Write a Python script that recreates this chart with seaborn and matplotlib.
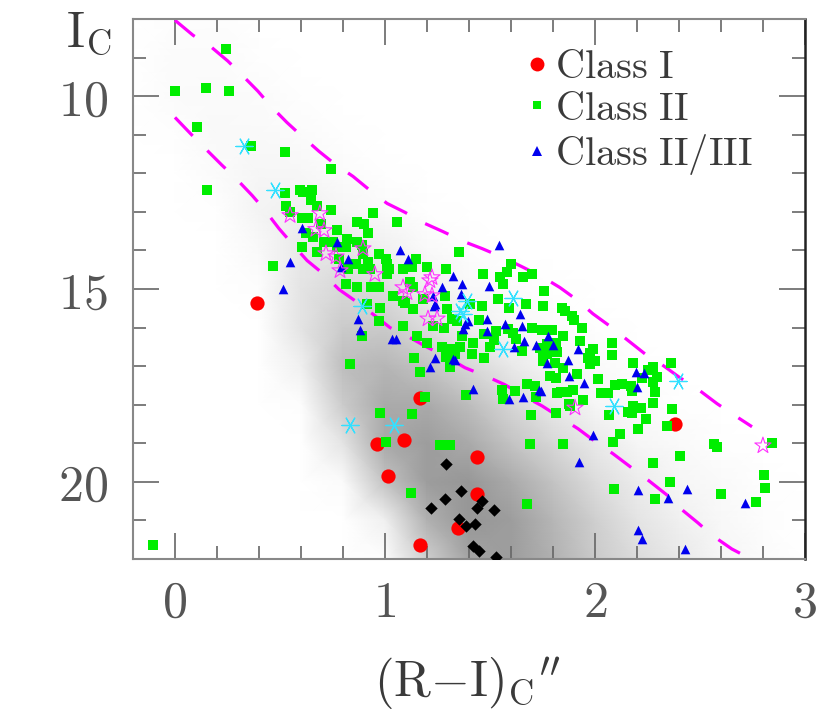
import numpy as np
import matplotlib
matplotlib.use("Agg")
import matplotlib.pyplot as plt
from matplotlib.colors import LinearSegmentedColormap
from matplotlib.lines import Line2D
import seaborn as sns

# ---- data ----
# Class II (green squares)
cls2_x = [0.243, 0.000, 0.148, 0.257, 0.105, 0.362, 0.524, 0.743, 0.152, 0.524,
          0.595, 0.610, 0.652, 0.648, 0.676, 0.743, 0.529, 0.548, 0.605, 0.633,
          0.943, 0.867, 0.900, 0.919, 1.057, 0.771, 0.695, 0.624, 0.657, 0.710,
          0.752, 0.819, 0.867, 0.814, 0.890, 0.605, 0.676, 0.771, 0.895, 0.919,
          0.862, 0.971, 1.005, 1.010, 1.148, 1.352, 0.781, 0.824, 0.895, 0.929,
          1.019, 1.010, 1.086, 1.129, 1.200, 1.290, 0.467, 0.814, 0.867, 0.933,
          0.971, 1.119, 1.133, 1.467, 1.581, 1.600, 1.657, 1.700, 1.548, 1.562,
          1.757, 1.086, 1.286, 1.405, 1.538, 1.590, 1.671, 1.133, 1.181, 1.295,
          1.319, 1.229, 1.281, 1.343, 1.462, 1.448, 1.471, 1.529, 1.586, 1.610,
          1.700, 1.748, 1.795, 1.624, 1.814, 1.152, 1.200, 1.271, 1.310, 1.367,
          1.357, 1.333, 1.419, 1.519, 1.500, 1.652, 1.738, 1.771, 1.138, 1.290,
          1.471, 1.086, 1.752, 1.843, 1.857, 1.890, 1.900, 1.938, 1.848, 1.771,
          1.929, 1.752, 1.819, 1.976, 1.990, 1.967, 2.000, 1.976, 2.081, 2.081,
          1.752, 1.810, 1.848, 1.786, 1.814, 1.914, 2.014, 2.181, 2.252, 2.276,
          2.295, 2.276, 2.362, 2.095, 2.129, 2.171, 2.176, 2.224, 2.029, 2.062,
          2.286, 1.838, 1.867, 1.895, 1.943, 1.881, 1.814, 2.276, 2.181, 2.176,
          2.219, 2.157, 2.067, 2.243, 2.367, 2.343, 2.205, 1.038, 1.095, 0.976,
          0.914, 0.971, 1.167, 1.310, 1.414, 0.833, 0.890, 1.190, 1.386, 0.976,
          1.129, -0.105, 1.005, 1.262, 1.310, 1.124, 1.557, 1.562, 1.619, 1.676,
          1.714, 1.719, 1.819, 1.876, 1.695, 2.119, 2.086, 1.690, 1.848, 2.567,
          2.581, 2.843, 2.405, 2.276, 2.357, 2.805, 2.810, 2.090, 2.286, 2.600,
          2.767, 1.676]
cls2_y = [8.78, 9.87, 9.79, 9.87, 10.81, 11.30, 11.45, 11.90, 12.42, 12.52,
          12.42, 12.49, 12.44, 12.68, 12.86, 12.94, 12.86, 13.01, 13.17, 13.17,
          13.04, 13.27, 13.32, 13.56, 13.27, 13.48, 13.32, 13.56, 13.66, 13.79,
          13.79, 13.71, 13.77, 13.92, 13.87, 13.90, 14.05, 13.92, 14.10, 14.29,
          14.34, 14.10, 14.21, 14.34, 14.21, 14.03, 14.21, 14.47, 14.49, 14.47,
          14.49, 14.60, 14.47, 14.42, 14.44, 14.47, 14.39, 14.86, 14.96, 14.96,
          14.94, 14.83, 14.96, 14.62, 14.55, 14.34, 14.68, 14.62, 14.70, 14.86,
          15.04, 15.30, 15.19, 15.38, 15.27, 15.48, 15.38, 15.53, 15.27, 15.51,
          15.77, 15.97, 16.00, 15.82, 15.45, 15.79, 16.16, 16.10, 16.03, 16.13,
          16.00, 16.05, 16.05, 16.29, 16.39, 16.21, 16.39, 16.49, 16.55, 16.21,
          16.49, 16.68, 16.39, 16.31, 16.49, 16.60, 16.52, 16.68, 16.78, 16.75,
          16.78, 15.97, 15.43, 15.48, 15.56, 15.71, 15.79, 16.00, 16.21, 16.42,
          16.34, 16.60, 16.62, 16.65, 16.55, 16.78, 16.86, 16.94, 16.39, 16.70,
          16.86, 16.91, 17.04, 17.25, 17.30, 17.19, 17.32, 16.91, 17.09, 17.01,
          17.27, 17.40, 16.91, 17.48, 17.45, 17.51, 17.64, 17.30, 17.69, 17.69,
          17.66, 17.66, 17.66, 17.61, 17.87, 18.03, 18.21, 17.95, 18.03, 18.21,
          18.08, 18.18, 18.26, 18.36, 18.10, 18.55, 18.62, 15.19, 15.35, 15.48,
          15.40, 15.84, 17.14, 17.01, 16.68, 16.94, 16.21, 17.79, 17.74, 18.21,
          18.23, 21.64, 18.96, 19.04, 19.04, 20.29, 17.61, 17.84, 17.64, 17.45,
          17.51, 17.79, 17.69, 17.97, 18.26, 18.75, 18.96, 19.01, 19.01, 19.01,
          19.09, 18.99, 19.32, 19.51, 20.00, 19.82, 20.16, 20.18, 20.44, 20.31,
          20.52, 20.57]

# Class II/III (blue triangles)
cls23_x = [0.605, 0.771, 0.548, 1.071, 1.110, 0.824, 0.790, 1.324, 0.514, 1.543,
           1.367, 1.271, 1.495, 1.362, 1.238, 1.643, 1.395, 1.486, 1.571, 1.652,
           1.371, 1.486, 1.776, 1.662, 1.614, 1.719, 1.800, 1.238, 1.324, 1.919,
           1.771, 1.871, 1.876, 1.948, 2.195, 2.233, 2.200, 1.743, 1.229, 1.233,
           0.871, 0.881, 1.033, 1.052, 1.214, 1.333, 1.419, 1.381, 1.590, 1.657,
           1.733, 1.924, 1.990, 2.205, 2.348, 2.438, 2.714, 2.205, 2.224, 2.429]
cls23_y = [13.43, 13.79, 14.29, 14.00, 14.23, 14.21, 14.42, 14.65, 15.01, 13.87,
           14.86, 14.96, 14.91, 15.12, 15.38, 15.66, 15.82, 15.77, 15.90, 15.95,
           16.03, 16.08, 16.23, 16.34, 16.49, 16.44, 16.44, 16.78, 16.81, 16.55,
           16.91, 16.83, 17.25, 17.43, 17.14, 17.17, 17.53, 17.64, 15.17, 15.43,
           15.77, 16.05, 16.29, 16.29, 17.01, 16.83, 17.58, 15.90, 17.84, 17.79,
           17.61, 19.48, 18.78, 20.21, 20.42, 20.18, 20.55, 21.25, 21.48, 21.74]

# Class I (red circles)
cls1_x = [0.390, 1.167, 0.962, 1.090, 1.014, 1.438, 1.438, 1.348, 1.167, 2.381]
cls1_y = [15.35, 17.82, 19.01, 18.91, 19.84, 19.35, 20.31, 21.19, 21.64, 18.49]

# black diamonds
dia_x = [1.290, 1.362, 1.286, 1.219, 1.438, 1.462, 1.519, 1.352, 1.386, 1.429,
         1.419, 1.448, 1.529]
dia_y = [19.53, 20.23, 20.44, 20.68, 20.68, 20.49, 20.73, 20.96, 21.14, 21.09,
         21.66, 21.79, 21.95]

# magenta open stars
star_x = [0.548, 0.690, 0.671, 0.710, 0.895, 0.719, 0.767, 0.786, 0.952, 1.224,
          1.086, 1.214, 1.105, 1.190, 1.224, 1.205, 1.248, 1.905, 2.800]
star_y = [13.09, 13.04, 13.45, 13.48, 13.95, 14.08, 14.16, 14.52, 14.62, 14.70,
          14.96, 14.78, 15.09, 15.14, 15.17, 15.77, 15.77, 18.08, 19.06]

# cyan asterisks
ast_x = [0.329, 0.476, 0.833, 1.043, 0.890, 1.371, 1.390, 1.357, 1.610, 1.562,
         2.090, 2.395]
ast_y = [11.30, 12.44, 18.52, 18.52, 15.43, 15.64, 15.30, 15.56, 15.22, 16.55,
         18.03, 17.38]

# dashed boundary lines
upper_x = [0.000, 0.086, 0.167, 0.252, 0.319, 0.395, 0.457, 0.533, 0.605, 0.686,
           0.757, 0.848, 0.924, 1.010, 1.095, 1.190, 1.276, 1.376, 1.462, 1.562,
           1.652, 1.748, 1.833, 1.919, 1.990, 2.081, 2.152, 2.238, 2.319, 2.405,
           2.486, 2.581, 2.652, 2.748]
upper_y = [8.03, 8.42, 8.70, 9.09, 9.45, 9.87, 10.26, 10.68, 11.04, 11.43,
           11.74, 12.08, 12.42, 12.78, 13.01, 13.30, 13.51, 13.77, 13.95, 14.18,
           14.42, 14.68, 14.96, 15.30, 15.64, 16.00, 16.31, 16.68, 16.96, 17.30,
           17.58, 17.97, 18.23, 18.57]
lower_x = [0.000, 0.081, 0.143, 0.224, 0.290, 0.367, 0.429, 0.495, 0.557, 0.629,
           0.705, 0.781, 0.862, 0.952, 1.024, 1.119, 1.205, 1.300, 1.381, 1.486,
           1.571, 1.667, 1.748, 1.843, 1.919, 2.010, 2.086, 2.176, 2.252, 2.343,
           2.405, 2.490, 2.562, 2.652, 2.733]
lower_y = [10.55, 11.01, 11.35, 11.79, 12.13, 12.57, 12.96, 13.43, 13.82, 14.26,
           14.60, 15.01, 15.32, 15.69, 16.00, 16.26, 16.52, 16.78, 17.04, 17.27,
           17.48, 17.79, 18.03, 18.36, 18.62, 18.99, 19.27, 19.64, 19.95, 20.34,
           20.68, 21.06, 21.40, 21.74, 21.97]

# field-star cloud: estimated density (rows = I_C 8..22, cols = R-I -0.2..3.0)
field_col = [-0.2, 0.0, 0.2, 0.4, 0.6, 0.8, 1.0, 1.2, 1.4, 1.6, 1.8, 2.0, 2.2, 2.4, 2.6, 2.8, 3.0]
field_mag = [8, 9, 10, 11, 12, 13, 14, 15, 16, 17, 18, 19, 20, 21, 22]
field_density = [
    [0, 0.2, 0.2, 0, 0, 0, 0, 0, 0, 0, 0, 0, 0, 0, 0, 0, 0],
    [0, 0.3, 0.3, 0.1, 0, 0, 0, 0, 0, 0, 0, 0, 0, 0, 0, 0, 0],
    [0, 0.3, 0.4, 0.3, 0.1, 0, 0, 0, 0, 0, 0, 0, 0, 0, 0, 0, 0],
    [0, 0.1, 0.5, 0.5, 0.3, 0.1, 0, 0, 0, 0, 0, 0, 0, 0, 0, 0, 0],
    [0, 0, 0.3, 0.8, 0.7, 0.3, 0.1, 0, 0, 0, 0, 0, 0, 0, 0, 0, 0],
    [0, 0, 0.1, 0.9, 1.3, 0.8, 0.4, 0.1, 0, 0, 0, 0, 0, 0, 0, 0, 0],
    [0, 0, 0, 0.5, 1.8, 2.2, 1.2, 0.5, 0.2, 0, 0, 0, 0, 0, 0, 0, 0],
    [0, 0, 0, 0.2, 2.2, 3.2, 2.8, 1.3, 0.6, 0.3, 0.1, 0, 0, 0, 0, 0, 0],
    [0, 0, 0, 0, 2.2, 4.2, 4.3, 2.8, 1.3, 0.6, 0.3, 0.1, 0, 0, 0, 0, 0],
    [0, 0, 0, 0, 1.2, 5.2, 5.8, 4.8, 3.2, 1.8, 0.8, 0.4, 0.1, 0, 0, 0, 0],
    [0, 0, 0, 0, 0.2, 4.2, 6.8, 6.8, 5.3, 3.3, 1.8, 0.8, 0.4, 0.1, 0, 0, 0],
    [0, 0, 0, 0, 0, 2.2, 6.8, 7.8, 6.8, 4.8, 3.2, 1.8, 0.8, 0.4, 0.1, 0, 0],
    [0, 0, 0, 0, 0, 0.3, 4.8, 7.8, 8.3, 6.8, 4.8, 2.8, 1.5, 0.8, 0.4, 0.1, 0],
    [0, 0, 0, 0, 0, 0, 1.2, 6.3, 8.3, 7.8, 5.8, 3.8, 2.2, 1.2, 0.6, 0.2, 0],
    [0, 0, 0, 0, 0, 0, 0.2, 3.8, 7.3, 7.8, 6.3, 4.3, 2.8, 1.8, 0.8, 0.3, 0],
]

legend_labels = ["Class I", "Class II", "Class II/III"]
x_ticks = [0, 1, 2, 3]
y_ticks = [10, 15, 20]

# ---- style ----
sns.set_style("ticks")
plt.rcParams["mathtext.fontset"] = "cm"
plt.rcParams["font.family"] = ["DejaVu Serif"]
txt_col = "#3a3a3a"

fig = plt.figure(figsize=(8.3, 7.19), dpi=100)
ax = fig.add_axes([0.1602, 0.2225, 0.8096, 0.751])

# field stars as a smooth grey density
grey = LinearSegmentedColormap.from_list("field", ["#ffffff", "#111111"])
ax.pcolormesh(field_col, field_mag, np.array(field_density), shading="gouraud",
              cmap=grey, vmin=0, vmax=19, zorder=0, rasterized=True)

# dashed envelopes
for lx, ly in [(upper_x, upper_y), (lower_x, lower_y)]:
    sns.lineplot(x=lx, y=ly, sort=False, estimator=None, ax=ax, color="#ff00ff",
                 lw=2.3, linestyle=(0, (8, 6.5)), zorder=2)

sns.scatterplot(x=cls1_x, y=cls1_y, ax=ax, marker="o", s=105, color="#ff0000",
                linewidth=0, zorder=3)
sns.scatterplot(x=cls2_x, y=cls2_y, ax=ax, marker="s", s=42, color="#00ee00",
                linewidth=0, zorder=4)
sns.scatterplot(x=cls23_x, y=cls23_y, ax=ax, marker="^", s=48, color="#0000ee",
                linewidth=0, zorder=5)
ax.scatter(star_x, star_y, marker="*", s=150, facecolors="none",
           edgecolors="#ff33ff", linewidths=0.8, zorder=6)
ax.scatter(ast_x, ast_y, marker=(6, 2, 30), s=150, color="#33e0ff",
           linewidths=0.9, zorder=6)
sns.scatterplot(x=dia_x, y=dia_y, ax=ax, marker="D", s=40, color="black",
                linewidth=0, zorder=7)

ax.set_xlim(-0.2, 3.0)
ax.set_ylim(22, 8)

# ticks / frame in the old pgplot look
ax.set_xticks(x_ticks)
ax.set_yticks(y_ticks)
ax.set_xticklabels([rf"$\mathrm{{{t}}}$" for t in x_ticks])
ax.set_yticklabels([rf"$\mathrm{{{t}}}$" for t in y_ticks])
ax.set_xticks(np.arange(-0.2, 3.01, 0.2), minor=True)
ax.set_yticks(np.arange(8, 22.01, 1), minor=True)
ax.tick_params(which="both", direction="in", top=True, right=True,
               color="#666666", width=1.2)
ax.tick_params(which="major", length=19, labelsize=36, labelcolor="#555555")
ax.tick_params(which="minor", length=9.5)
ax.tick_params(axis="x", pad=14)
ax.tick_params(axis="y", pad=18)
for side in ["left", "top", "bottom"]:
    ax.spines[side].set_color("#888888")
    ax.spines[side].set_linewidth(1.5)
ax.spines["right"].set_color("#222222")
ax.spines["right"].set_linewidth(1.8)

ax.set_xlabel(r"$\mathrm{(R{-}I)_C}^{\prime\prime}$", fontsize=36, color=txt_col)
ax.xaxis.label.set_va("center")
ax.xaxis.set_label_coords(0.497, -0.23)
ax.set_ylabel(r"$\mathrm{I_C}$", fontsize=36, color=txt_col, rotation=0,
              ha="center", va="center")
ax.yaxis.set_label_coords(-0.066, 0.975)

handles = [
    Line2D([], [], ls="none", marker="o", ms=10, color="#ff0000", mew=0),
    Line2D([], [], ls="none", marker="s", ms=5.5, color="#00ee00", mew=0),
    Line2D([], [], ls="none", marker="^", ms=6.5, color="#0000ee", mew=0),
]
leg = ax.legend(handles, [rf"$\mathrm{{{l.replace(' ', '\\ ')}}}$" for l in legend_labels],
                loc="upper left", bbox_to_anchor=(0.583, 0.945), frameon=False,
                fontsize=29, handlelength=0.6, handletextpad=0.15,
                labelspacing=0.12, borderpad=0, borderaxespad=0)
for t in leg.get_texts():
    t.set_color(txt_col)

fig.savefig("out.png", dpi=100)
